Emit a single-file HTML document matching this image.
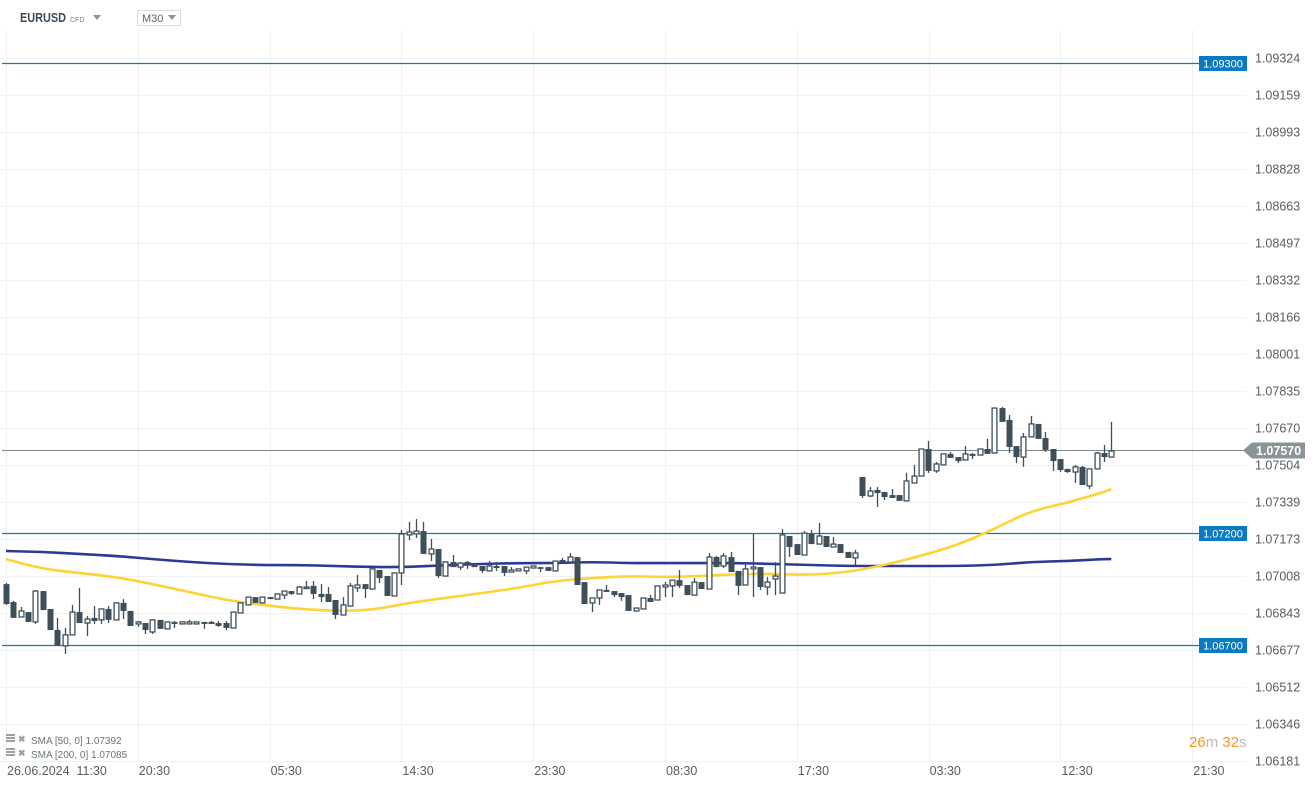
<!DOCTYPE html>
<html><head><meta charset="utf-8">
<style>
html,body{margin:0;padding:0;background:#fff;width:1315px;height:787px;overflow:hidden;font-family:"Liberation Sans",sans-serif;}
svg{position:absolute;left:0;top:0;}
</style></head>
<body>
<svg id="chart" width="1315" height="787" xmlns="http://www.w3.org/2000/svg">
  <g id="grid"></g>
  <g id="levels"></g>
  <g id="sma"></g>
  <g id="candles"></g>
  <g id="yaxis"></g>
  <g id="xaxis"></g>
  <g>
    <text x="20" y="22" font-size="12.5" font-weight="bold" fill="#3d4a55" textLength="46" lengthAdjust="spacingAndGlyphs">EURUSD</text>
    <text x="70" y="22" font-size="7" fill="#7a858c">CFD</text>
    <path d="M93,15 L101,15 L97,20 Z" fill="#8a9399"/>
    <rect x="137.5" y="10.5" width="43" height="15" fill="#fff" stroke="#dcdfe2"/>
    <text x="142" y="22" font-size="11" fill="#5a646b">M30</text>
    <path d="M168,15 L176,15 L172,20 Z" fill="#8a9399"/>
  </g>
  <g>
    <g>
      <rect x="6" y="734" width="9" height="2" fill="#9aa2a8"/><rect x="6" y="737" width="9" height="2" fill="#9aa2a8"/><rect x="6" y="740" width="9" height="2" fill="#9aa2a8"/>
      <text x="18" y="742" font-size="9" fill="#9aa2a8" font-weight="bold">✖</text>
      <text x="31" y="744" font-size="10" fill="#6b747a">SMA [50, 0] 1.07392</text>
    </g>
    <g>
      <rect x="6" y="748" width="9" height="2" fill="#9aa2a8"/><rect x="6" y="751" width="9" height="2" fill="#9aa2a8"/><rect x="6" y="754" width="9" height="2" fill="#9aa2a8"/>
      <text x="18" y="756" font-size="9" fill="#9aa2a8" font-weight="bold">✖</text>
      <text x="31" y="758" font-size="10" fill="#6b747a">SMA [200, 0] 1.07085</text>
    </g>
  </g>
  <g>
    <text x="1189" y="747" font-size="15" fill="#f59a1b">26<tspan fill="#b8bdc1">m</tspan> 32<tspan fill="#b8bdc1">s</tspan></text>
  </g>
</svg>
<script>
const opens=[1.06972,1.06892,1.06825,1.06847,1.06803,1.06941,1.06861,1.06767,1.06696,1.06745,1.06847,1.06798,1.06821,1.06812,1.06861,1.06812,1.06888,1.06852,1.06794,1.06798,1.06758,1.06812,1.06772,1.06803,1.06794,1.06794,1.06794,1.06803,1.06803,1.06798,1.06798,1.06776,1.06843,1.06879,1.06914,1.06888,1.06914,1.06905,1.06923,1.06941,1.06928,1.06955,1.06964,1.06928,1.06928,1.06901,1.06834,1.06874,1.06955,1.06972,1.06950,1.07035,1.07008,1.06919,1.07022,1.07192,1.07196,1.07209,1.07107,1.07129,1.07008,1.07071,1.07048,1.07071,1.07062,1.07053,1.07031,1.07053,1.07053,1.07026,1.07031,1.07031,1.07044,1.07048,1.07048,1.07031,1.07080,1.07071,1.07093,1.06981,1.06888,1.06910,1.06946,1.06941,1.06932,1.06923,1.06852,1.06861,1.06910,1.06901,1.06959,1.06964,1.06990,1.06968,1.06923,1.06981,1.06950,1.07093,1.07053,1.07093,1.07031,1.06968,1.07040,1.07048,1.06959,1.06995,1.06932,1.07187,1.07151,1.07102,1.07196,1.07151,1.07187,1.07138,1.07151,1.07116,1.07089,1.07451,1.07366,1.07393,1.07384,1.07370,1.07370,1.07344,1.07424,1.07455,1.07576,1.07478,1.07505,1.07554,1.07540,1.07527,1.07554,1.07549,1.07576,1.07558,1.07759,1.07706,1.07589,1.07540,1.07630,1.07688,1.07625,1.07576,1.07531,1.07487,1.07473,1.07496,1.07411,1.07487,1.07558,1.07540];
const highs=[1.06977,1.06897,1.06870,1.06847,1.06946,1.06941,1.06861,1.06821,1.06776,1.06879,1.06955,1.06830,1.06874,1.06861,1.06874,1.06888,1.06905,1.06852,1.06807,1.06798,1.06812,1.06812,1.06803,1.06807,1.06803,1.06812,1.06803,1.06803,1.06807,1.06807,1.06807,1.06847,1.06888,1.06914,1.06914,1.06914,1.06914,1.06928,1.06941,1.06941,1.06964,1.06986,1.06986,1.06972,1.06959,1.06901,1.06914,1.06977,1.07013,1.06972,1.07040,1.07035,1.07008,1.07022,1.07214,1.07250,1.07263,1.07250,1.07174,1.07129,1.07075,1.07102,1.07071,1.07075,1.07062,1.07053,1.07075,1.07071,1.07053,1.07048,1.07040,1.07048,1.07053,1.07048,1.07048,1.07075,1.07089,1.07111,1.07093,1.06981,1.06910,1.06946,1.06968,1.06941,1.06932,1.06923,1.06865,1.06910,1.06923,1.06964,1.06981,1.06990,1.07035,1.06968,1.06999,1.06981,1.07111,1.07098,1.07111,1.07116,1.07031,1.07066,1.07196,1.07048,1.07004,1.07071,1.07218,1.07187,1.07151,1.07209,1.07214,1.07245,1.07187,1.07183,1.07151,1.07116,1.07125,1.07451,1.07406,1.07406,1.07384,1.07397,1.07370,1.07469,1.07505,1.07576,1.07612,1.07518,1.07554,1.07563,1.07540,1.07589,1.07558,1.07576,1.07621,1.07759,1.07764,1.07728,1.07589,1.07648,1.07724,1.07688,1.07652,1.07576,1.07531,1.07487,1.07505,1.07500,1.07487,1.07563,1.07594,1.07697];
const lows=[1.06879,1.06821,1.06825,1.06803,1.06794,1.06856,1.06767,1.06696,1.06660,1.06745,1.06798,1.06740,1.06794,1.06794,1.06798,1.06812,1.06816,1.06785,1.06781,1.06749,1.06749,1.06772,1.06772,1.06776,1.06794,1.06794,1.06794,1.06772,1.06794,1.06781,1.06767,1.06776,1.06843,1.06879,1.06888,1.06888,1.06905,1.06905,1.06905,1.06923,1.06928,1.06955,1.06905,1.06892,1.06892,1.06816,1.06834,1.06874,1.06937,1.06910,1.06950,1.06977,1.06919,1.06919,1.06968,1.07169,1.07178,1.07107,1.07075,1.06999,1.07008,1.07048,1.07035,1.07040,1.07048,1.07022,1.07031,1.07031,1.07008,1.07026,1.07031,1.07017,1.07044,1.07026,1.07031,1.07031,1.07071,1.07071,1.06968,1.06883,1.06847,1.06879,1.06937,1.06914,1.06897,1.06852,1.06852,1.06861,1.06892,1.06901,1.06914,1.06914,1.06955,1.06923,1.06923,1.06950,1.06950,1.07048,1.07044,1.07026,1.06923,1.06968,1.06914,1.06946,1.06923,1.06923,1.06932,1.07093,1.07102,1.07102,1.07151,1.07151,1.07138,1.07138,1.07111,1.07089,1.07057,1.07357,1.07361,1.07317,1.07348,1.07357,1.07344,1.07344,1.07424,1.07455,1.07469,1.07469,1.07505,1.07536,1.07513,1.07527,1.07531,1.07549,1.07554,1.07558,1.07697,1.07558,1.07513,1.07496,1.07630,1.07621,1.07563,1.07478,1.07473,1.07469,1.07424,1.07415,1.07397,1.07487,1.07518,1.07540];
const closes=[1.06883,1.06821,1.06852,1.06803,1.06941,1.06856,1.06767,1.06696,1.06745,1.06847,1.06798,1.06816,1.06807,1.06861,1.06812,1.06888,1.06852,1.06785,1.06803,1.06767,1.06812,1.06772,1.06803,1.06794,1.06803,1.06803,1.06803,1.06794,1.06794,1.06785,1.06776,1.06847,1.06888,1.06914,1.06888,1.06914,1.06905,1.06928,1.06941,1.06928,1.06959,1.06959,1.06928,1.06914,1.06892,1.06834,1.06879,1.06964,1.06968,1.06950,1.07040,1.06999,1.06919,1.07022,1.07196,1.07205,1.07209,1.07107,1.07129,1.07008,1.07071,1.07048,1.07066,1.07062,1.07048,1.07031,1.07053,1.07044,1.07022,1.07035,1.07040,1.07048,1.07053,1.07040,1.07031,1.07075,1.07071,1.07093,1.06968,1.06883,1.06910,1.06946,1.06937,1.06923,1.06914,1.06852,1.06865,1.06910,1.06892,1.06964,1.06968,1.06990,1.06964,1.06923,1.06981,1.06950,1.07093,1.07048,1.07098,1.07026,1.06964,1.07040,1.07048,1.06959,1.06981,1.07008,1.07192,1.07138,1.07102,1.07200,1.07151,1.07187,1.07138,1.07151,1.07111,1.07089,1.07111,1.07366,1.07388,1.07379,1.07361,1.07357,1.07344,1.07433,1.07455,1.07576,1.07478,1.07509,1.07554,1.07536,1.07522,1.07554,1.07545,1.07576,1.07554,1.07759,1.07697,1.07585,1.07540,1.07630,1.07688,1.07621,1.07572,1.07522,1.07482,1.07473,1.07496,1.07415,1.07487,1.07558,1.07540,1.07567];
const smaIdx=[0,5,10,15,20,25,30,35,40,45,50,55,60,65,70,75,80,85,90,95,100,105,110,115,120,125,130,135,140,145,150,151];
const sma50=[1.07084,1.07040,1.07022,1.07004,1.06972,1.06937,1.06901,1.06879,1.06861,1.06852,1.06856,1.06888,1.06910,1.06932,1.06955,1.06986,1.06999,1.07008,1.07004,1.07008,1.07017,1.07017,1.07013,1.07026,1.07057,1.07098,1.07147,1.07218,1.07299,1.07335,1.07384,1.07397];
const sma200=[1.07120,1.07116,1.07107,1.07098,1.07084,1.07071,1.07062,1.07057,1.07057,1.07053,1.07048,1.07048,1.07057,1.07062,1.07066,1.07066,1.07071,1.07066,1.07066,1.07066,1.07066,1.07062,1.07057,1.07053,1.07053,1.07053,1.07053,1.07057,1.07071,1.07075,1.07084,1.07084];
const priceTicks=["1.09324","1.09159","1.08993","1.08828","1.08663","1.08497","1.08332","1.08166","1.08001","1.07835","1.07670","1.07504","1.07339","1.07173","1.07008","1.06843","1.06677","1.06512","1.06346","1.06181"];
const timeTicks=["26.06.2024  11:30","20:30","05:30","14:30","23:30","08:30","17:30","03:30","12:30","21:30"];
const levels=[1.0930,1.0720,1.0670];
const lastPrice=1.07570;

const NS="http://www.w3.org/2000/svg";
const PLOT_R=1247;
function y(p){return 500-(p-1.07348)*22370;}
function x(i){return 6+i*7.32;}
function tx(j){return 6+j*131.8;}
function mk(tag,attrs,parent){const e=document.createElementNS(NS,tag);for(const k in attrs)e.setAttribute(k,attrs[k]);parent.appendChild(e);return e;}

const grid=document.getElementById('grid');
priceTicks.forEach(t=>{const gy=Math.round(y(parseFloat(t)))+0.5;
  const l=mk('line',{x1:0,x2:PLOT_R,y1:gy,y2:gy,stroke:'#f0f1f2','stroke-width':1},grid);
  
  });
timeTicks.forEach((t,j)=>{const gx=Math.round(tx(j))+0.5;
  const l=mk('line',{x1:gx,x2:gx,y1:30,y2:761,stroke:'#f0f1f2','stroke-width':1},grid);
  
  });

const yaxis=document.getElementById('yaxis');
priceTicks.forEach(t=>{const e=mk('text',{x:1255,y:y(parseFloat(t))+4.5,'font-size':12.5,fill:'#555d63'},yaxis);e.textContent=t;
  
  });
const xaxis=document.getElementById('xaxis');
timeTicks.forEach((t,j)=>{const e=mk('text',{x:tx(j)+1,y:775,'font-size':12.5,fill:'#555d63'},xaxis);e.textContent=t;e.style.whiteSpace='pre';
  
  });

const lv=document.getElementById('levels');
levels.forEach(p=>{const ly=Math.round(y(p))+0.5;
  const l=mk('line',{x1:2,x2:1199,y1:ly,y2:ly,stroke:'#1b74b4','stroke-width':1.2},lv);
  
  
  const r=mk('rect',{x:1199,y:ly-7.5,width:48,height:15,fill:'#0a7bc1'},lv);
  
  
  const t=mk('text',{x:1223,y:ly+4,'font-size':11,fill:'#fff','text-anchor':'middle'},lv);t.textContent=p.toFixed(5);
  
  });
const ly0=Math.round(y(lastPrice))+0.5;
const cl=mk('line',{x1:2,x2:1245,y1:ly0,y2:ly0,stroke:'#7d878c','stroke-width':1},lv);


const cp=mk('path',{d:`M1243,${ly0} L1252,${ly0-8} L1305,${ly0-8} L1305,${ly0+8} L1252,${ly0+8} Z`,fill:'#8a9397'},lv);


const ct=mk('text',{x:1256,y:ly0+4.5,'font-size':12.5,'font-weight':'bold',fill:'#fff'},lv);ct.textContent=lastPrice.toFixed(5);



const sg=document.getElementById('sma');
function smaPath(vals,color,name){
  const pts=vals.map((v,k)=>[x(smaIdx[k]),y(v)]);
  let d='M'+pts[0][0].toFixed(1)+','+pts[0][1].toFixed(1);
  for(let k=1;k<pts.length;k++){const p0=pts[k-1],p1=pts[k];const mx=(p0[0]+p1[0])/2,my=(p0[1]+p1[1])/2;
    d+=' Q'+p0[0].toFixed(1)+','+p0[1].toFixed(1)+' '+mx.toFixed(1)+','+my.toFixed(1);}
  const last=pts[pts.length-1];d+=' L'+last[0].toFixed(1)+','+last[1].toFixed(1);
  const p=mk('path',{d:d,fill:'none',stroke:color,'stroke-width':2.6,'stroke-linejoin':'round'},sg);
  
  }
smaPath(sma200,'#2c3a94','sma200-line');
smaPath(sma50,'#fdd335','sma50-line');

const cg=document.getElementById('candles');
const COL='#3f4f5a';
opens.forEach((o,i)=>{const c=closes[i],h=highs[i],l=lows[i];const cx=Math.round(x(i))+0.5;
  const g=mk('g',{},cg);
  
  
  mk('line',{x1:cx,x2:cx,y1:y(h),y2:y(l),stroke:COL,'stroke-width':1.3},g);
  const top=y(Math.max(o,c)),bot=y(Math.min(o,c));const bh=Math.max(bot-top,1.5);
  if(c>=o){mk('rect',{x:cx-2.4,y:top,width:4.8,height:bh,fill:'#fff',stroke:COL,'stroke-width':1.3},g);}
  else{mk('rect',{x:cx-3,y:top,width:6,height:bh,fill:COL},g);}
});
</script>
</body></html>
